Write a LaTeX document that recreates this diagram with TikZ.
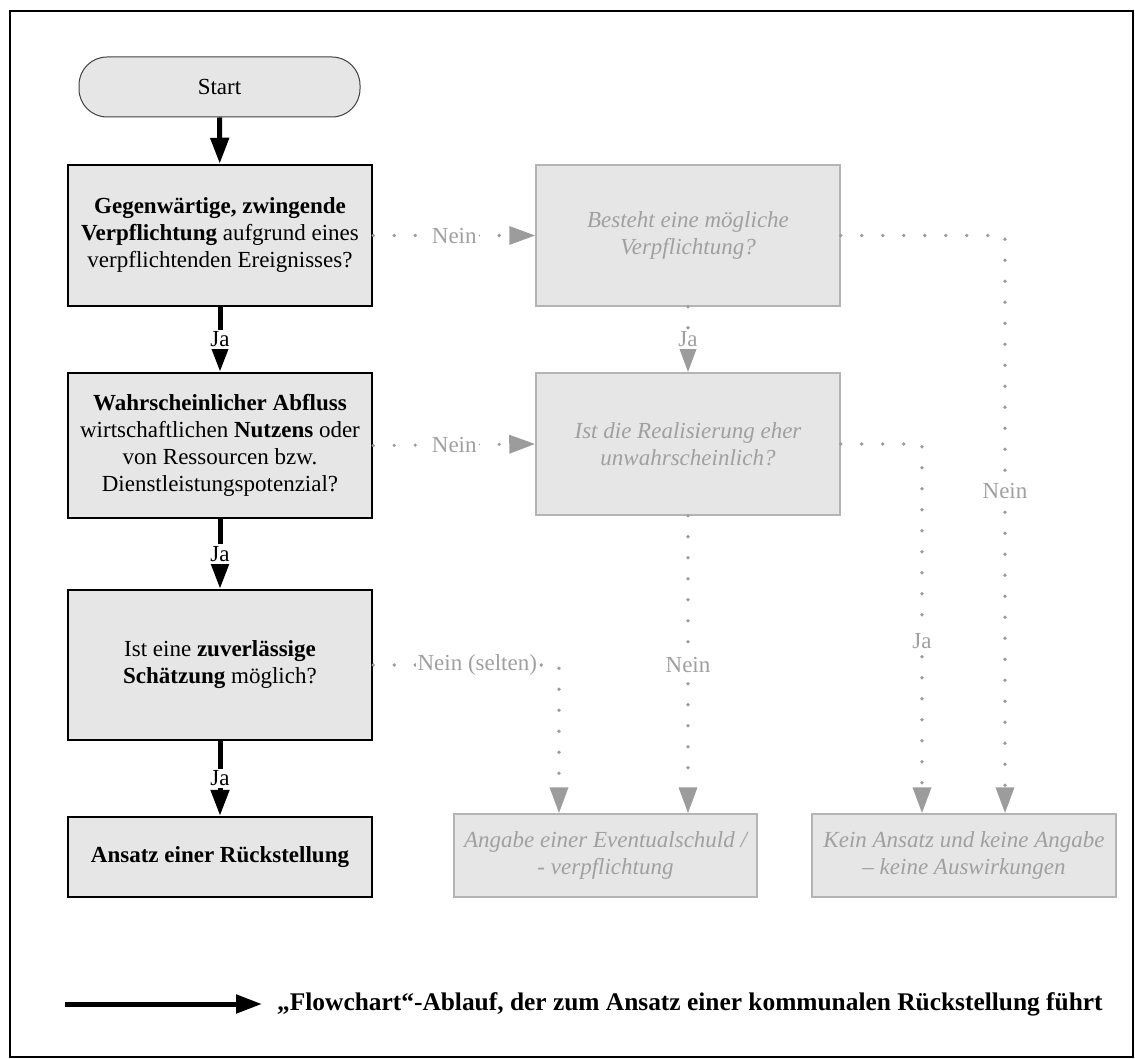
\documentclass[tikz,border=0pt]{standalone}
\usepackage{fontspec}
\setmainfont{Liberation Serif}
\usetikzlibrary{arrows.meta}
\definecolor{boxfill}{HTML}{E6E6E6}
\definecolor{greyline}{HTML}{9C9C9C}
\definecolor{greyedge}{HTML}{B4B4B4}
\definecolor{greytext}{HTML}{A0A0A0}
\begin{document}
\begin{tikzpicture}[x=1pt,y=-1pt,
  every node/.style={font=\fontsize{23}{27}\selectfont, align=center},
  startbox/.style={draw=black!75, line width=1pt, fill=boxfill, rounded corners=28pt,
    minimum width=281pt, minimum height=60pt, inner sep=0pt},
  mainbox/.style={draw=black, line width=2.5pt, fill=boxfill, minimum width=304pt, inner sep=0pt},
  sidebox/.style={draw=greyedge, line width=1.5pt, fill=boxfill, text=greytext,
    font=\fontsize{23}{27}\selectfont\itshape, minimum width=304pt, inner sep=0pt},
  flow/.style={line width=5pt, -{Triangle[length=26pt,width=18pt]}},
  dots/.style={draw=greyline, line width=3.6pt, line cap=round, dash pattern=on 0pt off 21pt,
    -{Triangle[length=26pt,width=18pt]}},
  jalabel/.style={fill=white, inner sep=2pt},
  glabel/.style={fill=white, text=greytext, inner sep=2pt}]

\useasboundingbox (0,0) rectangle (1135,1059);
\draw[line width=2pt] (10,11) rectangle (1133,1057);

% main decision column
\node[startbox] (start) at (219.5,87) {Start};
\node[mainbox, minimum height=141pt] (q1) at (220,235.5)
  {\textbf{Gegenwärtige, zwingende}\\\textbf{Verpflichtung} aufgrund eines\\verpflichtenden Ereignisses?};
\node[mainbox, minimum height=145pt] (q2) at (220,445.5)
  {\textbf{Wahrscheinlicher Abfluss}\\wirtschaftlichen \textbf{Nutzens} oder\\von Ressourcen bzw.\\Dienstleistungspotenzial?};
\node[mainbox, minimum height=150pt] (q3) at (220,665)
  {Ist eine \textbf{zuverlässige}\\\textbf{Schätzung} möglich?};
\node[mainbox, minimum height=80pt] (res) at (220,857)
  {\textbf{Ansatz einer Rückstellung}};

% side questions and outcomes
\node[sidebox, minimum height=141pt] (s1) at (688,235.5) {Besteht eine mögliche\\Verpflichtung?};
\node[sidebox, minimum height=142pt] (s2) at (688,444) {Ist die Realisierung eher\\unwahrscheinlich?};
\node[sidebox, minimum width=303pt, minimum height=83pt] (ev) at (605.5,855.5)
  {Angabe einer Eventualschuld /\\- verpflichtung};
\node[sidebox, minimum width=304pt, minimum height=83pt] (none) at (964,855.5)
  {Kein Ansatz und keine Angabe\\– keine Auswirkungen};

% main flow
\draw[flow] (start) -- (q1);
\draw[flow] (q1) -- node[jalabel] {Ja} (q2);
\draw[flow] (q2) -- node[jalabel] {Ja} (q3);
\draw[flow] (q3) -- node[jalabel] {Ja} (res);

% side branches
\coordinate (c3) at (559,665);
\coordinate (c6) at (1005,235.5);
\coordinate (c7) at (922,444);
\draw[dots] (q1.east) -- node[glabel] {Nein} (s1.west);
\draw[dots] (q2.east) -- node[glabel] {Nein} (s2.west);
\draw[dots] (s1.south) -- node[glabel] {Ja} (s2.north);
\draw[dots] (s2.south) -- node[glabel] {Nein} (s2.south |- ev.north);
\draw[dots] (q3.east) -- node[glabel, pos=0.56] {Nein (selten)} (c3) -- (c3 |- ev.north);
\draw[dots] (s1.east) -- (c6) -- node[glabel, pos=0.443] {Nein} (c6 |- none.north);
\draw[dots] (s2.east) -- (c7) -- node[glabel, pos=0.535] {Ja} (c7 |- none.north);

% legend
\coordinate (legstart) at (65,1004);
\node[anchor=west, inner sep=0pt, font=\fontsize{25.4}{30}\selectfont\bfseries] (legend) at (277,1004)
  {„Flowchart“-Ablauf, der zum Ansatz einer kommunalen Rückstellung führt};
\draw[flow] (legstart) -- ([xshift=-15pt]legend.west);
\end{tikzpicture}
\end{document}
